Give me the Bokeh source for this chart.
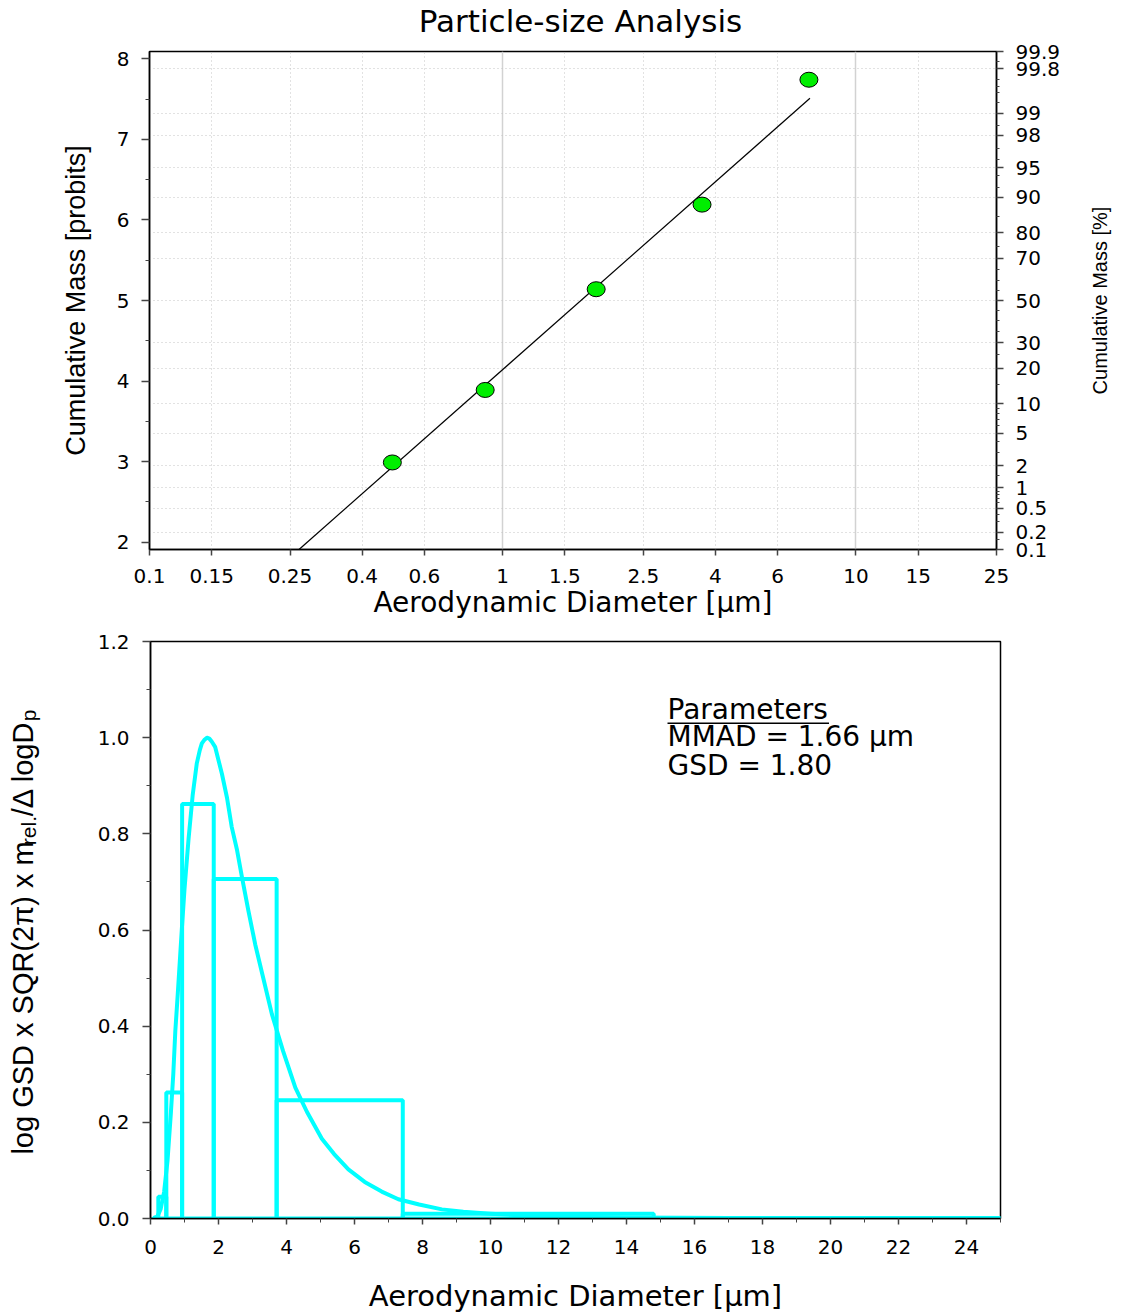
import math
from statistics import NormalDist
from bokeh.plotting import figure
from bokeh.layouts import column, row
from bokeh.models import (Range1d, LinearAxis, FixedTicker, CustomJSTickFormatter,
                          PrintfTickFormatter, Grid)
from bokeh.core.properties import value
from bokeh.embed import file_html
from bokeh.resources import INLINE

# ---------------- data ----------------
title_text = "Particle-size Analysis"
x_tick_values = [0.1, 0.15, 0.25, 0.4, 0.6, 1, 1.5, 2.5, 4, 6, 10, 15, 25]
x_tick_labels = ["0.1", "0.15", "0.25", "0.4", "0.6", "1", "1.5", "2.5", "4", "6", "10", "15", "25"]
x_solid_grid = [1, 10]
x_dotted_grid = [0.15, 0.25, 0.4, 0.6, 1.5, 2.5, 4, 6, 15]
probit_ticks = [2, 3, 4, 5, 6, 7, 8]
probit_minor = [2.5, 3.5, 4.5, 5.5, 6.5, 7.5]
pct_ticks = [0.1, 0.2, 0.5, 1, 2, 5, 10, 20, 30, 50, 70, 80, 90, 95, 98, 99, 99.8, 99.9]
pct_labels = ["0.1", "0.2", "0.5", "1", "2", "5", "10", "20", "30", "50", "70", "80",
              "90", "95", "98", "99", "99.8", "99.9"]
pct_minor = [0.15, 0.3, 0.4, 0.6, 0.7, 0.8, 0.9, 1.5, 3, 4, 6, 7, 8, 9, 15, 25, 35, 40, 45,
             55, 60, 65, 75, 85, 92, 94, 96, 97, 98.5, 99.3, 99.5, 99.6, 99.7, 99.85]

stage_d = [0.487, 0.892, 1.839, 3.667, 7.36]
stage_probit = [2.99, 3.89, 5.14, 6.19, 7.74]
fit_d = [0.265, 7.41]
fit_probit = [1.91, 7.51]

bin_left = [0.10, 0.23, 0.465, 0.93, 1.86, 3.71, 7.42, 14.8]
bin_right = [0.23, 0.465, 0.93, 1.86, 3.71, 7.42, 14.8, 25.0]
bin_height = [0.002, 0.045, 0.262, 0.862, 0.706, 0.246, 0.010, 0.001]

curve_d = [0.10, 0.20, 0.30, 0.40, 0.50, 0.60, 0.67, 0.73, 0.80, 0.92, 1.00, 1.12, 1.24,
           1.36, 1.45, 1.51, 1.58, 1.66, 1.73, 1.80, 1.90, 2.00, 2.10, 2.25, 2.39, 2.54,
           2.69, 2.88, 3.08, 3.30, 3.57, 3.90, 4.26, 4.60, 5.04, 5.40, 5.82, 6.30, 6.80,
           7.29, 7.90, 8.57, 9.20, 10.0, 11.0, 12.0, 14.0, 17.0, 20.0, 25.0]
curve_y = [0.000, 0.004, 0.020, 0.055, 0.120, 0.220, 0.300, 0.390, 0.465, 0.600, 0.685,
           0.790, 0.880, 0.946, 0.974, 0.988, 0.995, 1.000, 0.998, 0.992, 0.981, 0.953,
           0.925, 0.875, 0.814, 0.768, 0.710, 0.640, 0.570, 0.505, 0.425, 0.348, 0.272,
           0.222, 0.166, 0.134, 0.102, 0.076, 0.056, 0.040, 0.029, 0.019, 0.014, 0.010,
           0.006, 0.004, 0.002, 0.001, 0.0004, 0.0001]

hist_x_ticks = [0, 2, 4, 6, 8, 10, 12, 14, 16, 18, 20, 22, 24]
hist_x_minor = [1, 3, 5, 7, 9, 11, 13, 15, 17, 19, 21, 23, 25]
hist_y_ticks = [0.0, 0.2, 0.4, 0.6, 0.8, 1.0, 1.2]
hist_y_minor = [0.1, 0.3, 0.5, 0.7, 0.9, 1.1]
param_lines = ["Parameters", "MMAD = 1.66 \u03bcm", "GSD = 1.80"]
right_label = "Cumulative Mass [%]"
ylabel_parts = ["log GSD x SQR(2\u03c0) x m", "rel.", "/\u0394 logD", "p"]

# ---------------- helpers ----------------
nd = NormalDist()


def probit(pct):
    return 5.0 + nd.inv_cdf(pct / 100.0)


def label_formatter(vals, labels):
    return CustomJSTickFormatter(args=dict(vals=vals, labels=labels), code="""
        let best = 0, bd = Infinity;
        for (let i = 0; i < vals.length; i++) {
            const d = Math.abs(vals[i] - tick);
            if (d < bd) { bd = d; best = i; }
        }
        return labels[best];
    """)


TICKF = "DejaVu Sans"
LABF = "DejaVu Sans"
VF = "Liberation Sans"


def style_axis(ax, tick_out=8, minor_out=4, standoff=12):
    ax.axis_line_color = "black"
    ax.axis_line_width = 1.5
    ax.major_tick_line_color = "#444444"
    ax.minor_tick_line_color = "#444444"
    ax.major_tick_line_width = 1.5
    ax.minor_tick_line_width = 1
    ax.major_tick_out = tick_out
    ax.major_tick_in = 0
    ax.minor_tick_out = minor_out
    ax.minor_tick_in = 0
    ax.major_label_text_font = TICKF
    ax.major_label_text_font_size = "20px"
    ax.major_label_text_color = "black"
    ax.major_label_standoff = standoff
    ax.axis_label_text_font_style = "normal"
    ax.axis_label_text_color = "black"


def blank_strip(w, h, frame_h):
    # strip's frame is aligned with the neighbouring plot's frame (height frame_h)
    f = figure(width=w, height=h, x_range=Range1d(0, w), y_range=Range1d(0, frame_h),
               min_border=0, x_axis_location=None, y_axis_location=None,
               toolbar_location=None, output_backend="svg")
    f.grid.visible = False
    f.outline_line_color = None
    return f


# layout sizes (pixels)
TITLE_H = 38
P1_TOP, P1_FH, P1_BOT, P1_LEFT, P1_FW, P1_RIGHT = 13, 498, 75, 149, 847, 82
P2_TOP, P2_FH, P2_BOT, P2_LEFT, P2_FW, P2_RIGHT = 17, 577, 96, 104, 850, 114
RSTRIP_W, LSTRIP_W = 36, 46
P1_H = P1_TOP + P1_FH + P1_BOT
P2_H = P2_TOP + P2_FH + P2_BOT

# ---------------- title strip (same horizontal geometry as the top plot) ----------------
tstrip = figure(frame_width=P1_FW, frame_height=TITLE_H, x_range=Range1d(0, P1_FW),
                y_range=Range1d(0, TITLE_H), min_border_left=P1_LEFT,
                min_border_right=P1_RIGHT + RSTRIP_W, min_border_top=0, min_border_bottom=0,
                x_axis_location=None, y_axis_location=None, toolbar_location=None,
                output_backend="svg")
tstrip.grid.visible = False
tstrip.outline_line_color = None
tstrip.text(x=[431], y=[18], text=[title_text], text_align="center",
            text_baseline="middle", text_font=value(LABF), text_font_size=value("31px"),
            text_color="black")

# ---------------- top figure ----------------
p1 = figure(x_axis_type="log", x_range=Range1d(0.1, 25),
            y_range=Range1d(probit(0.1), probit(99.9)),
            frame_width=P1_FW, frame_height=P1_FH,
            min_border_left=P1_LEFT, min_border_right=P1_RIGHT, min_border_top=P1_TOP,
            min_border_bottom=P1_BOT, toolbar_location=None, output_backend="svg")
p1.outline_line_color = "black"
p1.outline_line_width = 1.5
p1.xgrid.grid_line_color = None
p1.ygrid.grid_line_color = None

p1.add_layout(Grid(dimension=0, ticker=FixedTicker(ticks=x_solid_grid),
                   grid_line_color="#d2d2d2", grid_line_width=1.5))
p1.add_layout(Grid(dimension=0, ticker=FixedTicker(ticks=x_dotted_grid),
                   grid_line_color="#c4c4c4", grid_line_width=1, grid_line_dash="1 3"))
p1.add_layout(Grid(dimension=1, ticker=FixedTicker(ticks=[probit(v) for v in pct_ticks[1:-1]]),
                   grid_line_color="#c4c4c4", grid_line_width=1, grid_line_dash="1 3"))

xa = p1.xaxis[0]
style_axis(xa, tick_out=6, minor_out=0, standoff=13)
xa.ticker = FixedTicker(ticks=x_tick_values, minor_ticks=[])
xa.formatter = label_formatter(x_tick_values, x_tick_labels)
xa.axis_label = "Aerodynamic Diameter [\u03bcm]"
xa.axis_label_text_font = LABF
xa.axis_label_text_font_size = "28px"
xa.axis_label_standoff = 0

ya = p1.yaxis[0]
style_axis(ya, tick_out=8, minor_out=4, standoff=12)
ya.ticker = FixedTicker(ticks=probit_ticks, minor_ticks=probit_minor)
ya.axis_label = "Cumulative Mass [probits]"
ya.axis_label_text_font = VF
ya.axis_label_text_font_size = "27px"
ya.axis_label_standoff = 23

ra = LinearAxis(ticker=FixedTicker(ticks=[probit(v) for v in pct_ticks],
                                   minor_ticks=[probit(v) for v in pct_minor]),
                formatter=label_formatter([probit(v) for v in pct_ticks], pct_labels))
style_axis(ra, tick_out=7, minor_out=3, standoff=12)
p1.add_layout(ra, "right")

p1.line(fit_d, fit_probit, line_color="black", line_width=1.2)
p1.ellipse(x=stage_d, y=stage_probit, width=18, height=15, width_units="screen",
           height_units="screen", fill_color="#00ee00", line_color="black", line_width=1)

# right-side rotated label strip (y measured in pixels up from the frame bottom)
rstrip = blank_strip(RSTRIP_W, P1_H, P1_FH)
rstrip.text(x=[21], y=[249], text=[right_label], angle=math.pi / 2,
            text_align="center", text_baseline="middle", text_font=value(VF),
            text_font_size=value("20px"), text_color="black")

# ---------------- bottom figure ----------------
p2 = figure(x_range=Range1d(0, 25), y_range=Range1d(0, 1.2),
            frame_width=P2_FW, frame_height=P2_FH,
            min_border_left=P2_LEFT, min_border_right=P2_RIGHT, min_border_top=P2_TOP,
            min_border_bottom=P2_BOT, toolbar_location=None, output_backend="svg")
p2.outline_line_color = "black"
p2.outline_line_width = 1.5
p2.xgrid.grid_line_color = None
p2.ygrid.grid_line_color = None

bx = p2.xaxis[0]
style_axis(bx, tick_out=6, minor_out=4, standoff=15)
bx.ticker = FixedTicker(ticks=hist_x_ticks, minor_ticks=hist_x_minor)
bx.axis_label = "Aerodynamic Diameter [\u03bcm]"
bx.axis_label_text_font = LABF
bx.axis_label_text_font_size = "29px"
bx.axis_label_standoff = 22

by = p2.yaxis[0]
style_axis(by, tick_out=8, minor_out=4, standoff=13)
by.ticker = FixedTicker(ticks=hist_y_ticks, minor_ticks=hist_y_minor)
by.formatter = PrintfTickFormatter(format="%.1f")

p2.quad(left=bin_left, right=bin_right, top=bin_height, bottom=0,
        fill_color=None, line_color="#00ffff", line_width=4)
p2.line(curve_d, curve_y, line_color="#00ffff", line_width=4, line_join="round")

param_x = 15.206
param_y = [1.058, 1.002, 0.942]
p2.text(x=[param_x] * len(param_lines), y=param_y, text=param_lines,
        text_align="left", text_baseline="alphabetic", text_font=value(LABF),
        text_font_size=value("28px"), text_color="black")
p2.segment(x0=[param_x], y0=[1.030], x1=[param_x + 4.75], y1=[1.030],
           line_color="black", line_width=1.5)

# left strip holding the composite rotated y label (main text + subscripts)
lstrip = blank_strip(LSTRIP_W, P2_H, P2_FH)
part_x = [22, 28, 22, 28]
part_y = [63, 373, 402, 497]
part_size = ["29px", "21px", "29px", "21px"]
for txt, xx, yy, sz in zip(ylabel_parts, part_x, part_y, part_size):
    lstrip.text(x=[xx], y=[yy], text=[txt], angle=math.pi / 2, text_align="left",
                text_baseline="alphabetic", text_font=value(VF),
                text_font_size=value(sz), text_color="black")

layout = column(tstrip, row(p1, rstrip), row(lstrip, p2))
open("out.html", "w").write(file_html(layout, INLINE))
